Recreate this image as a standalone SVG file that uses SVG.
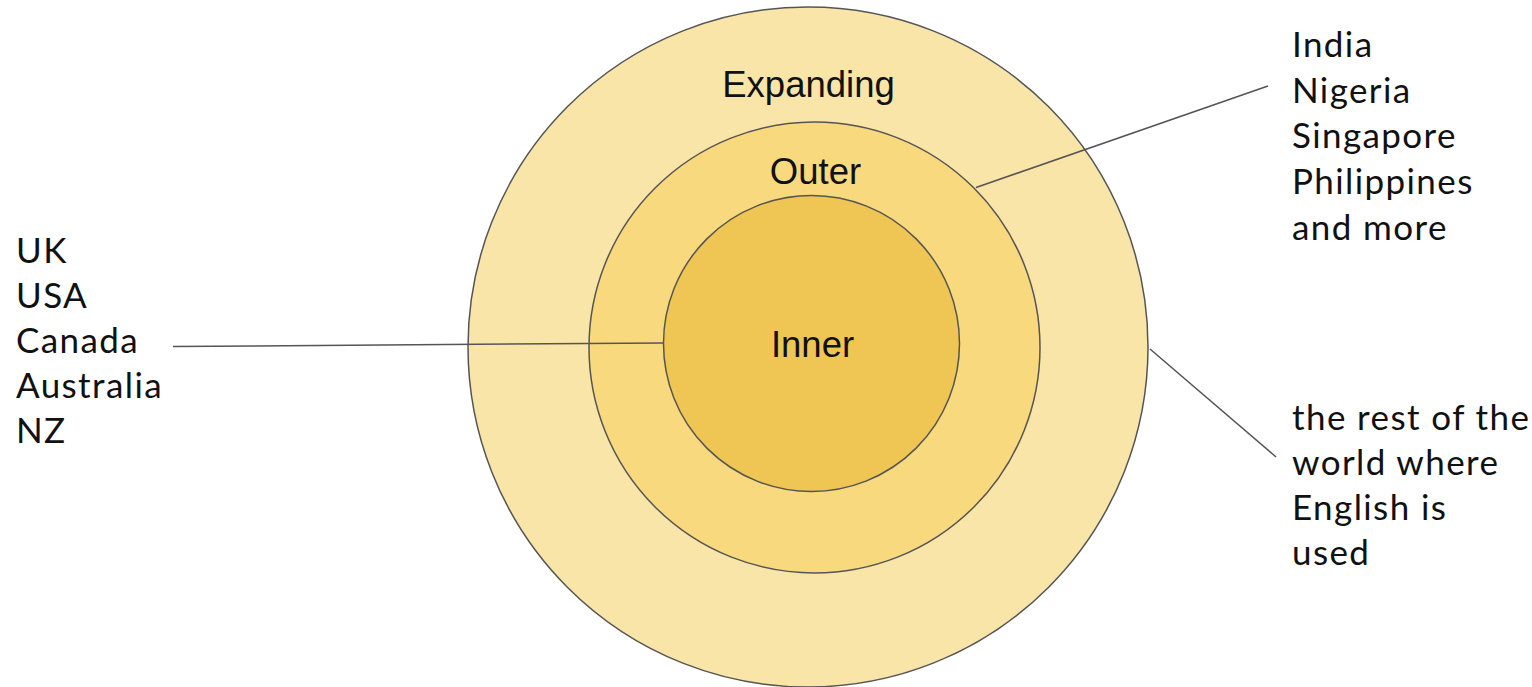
<svg xmlns="http://www.w3.org/2000/svg" width="1532" height="687" viewBox="0 0 1532 687">
  <style>
    .ring { stroke: #555; stroke-width: 1.5; }
    .ring-label { font-family: "Liberation Sans", Arial, sans-serif; font-size: 36.5px; fill: #111; text-anchor: middle; }
    .list { font-family: Lato, "Noto Sans", sans-serif; font-size: 35px; letter-spacing: 1.4px; fill: #111; }
    .connector { stroke: #555; stroke-width: 1.5; fill: none; }
  </style>
  <rect width="1532" height="687" fill="#ffffff"/>

  <!-- concentric circles -->
  <g id="expanding">
    <circle class="ring" cx="808" cy="347" r="340" fill="#F9E5A7"/>
    <text class="ring-label" x="808.5" y="97">Expanding</text>
  </g>
  <g id="outer">
    <circle class="ring" cx="814.5" cy="347.5" r="225.5" fill="#F8D97D"/>
    <text class="ring-label" x="815.5" y="184">Outer</text>
  </g>
  <g id="inner">
    <circle class="ring" cx="811.5" cy="343.5" r="148" fill="#EFC653"/>
    <text class="ring-label" x="812.5" y="357">Inner</text>
  </g>

  <!-- leader lines -->
  <g id="connectors">
    <line class="connector" x1="173" y1="346.5" x2="664" y2="343"/>
    <line class="connector" x1="976" y1="187.5" x2="1268" y2="86"/>
    <line class="connector" x1="1150" y1="349" x2="1276" y2="457"/>
  </g>

  <!-- country lists -->
  <g id="inner-countries">
    <text class="list" x="16" y="263">UK</text>
    <text class="list" x="16" y="308">USA</text>
    <text class="list" x="16" y="353">Canada</text>
    <text class="list" x="16" y="398">Australia</text>
    <text class="list" x="16" y="443">NZ</text>
  </g>
  <g id="outer-countries">
    <text class="list" x="1292" y="57">India</text>
    <text class="list" x="1292" y="103">Nigeria</text>
    <text class="list" x="1292" y="148">Singapore</text>
    <text class="list" x="1292" y="194">Philippines</text>
    <text class="list" x="1292" y="240">and more</text>
  </g>
  <g id="expanding-note">
    <text class="list" x="1292" y="430">the rest of the</text>
    <text class="list" x="1292" y="475">world where</text>
    <text class="list" x="1292" y="520">English is</text>
    <text class="list" x="1292" y="565">used</text>
  </g>
</svg>
